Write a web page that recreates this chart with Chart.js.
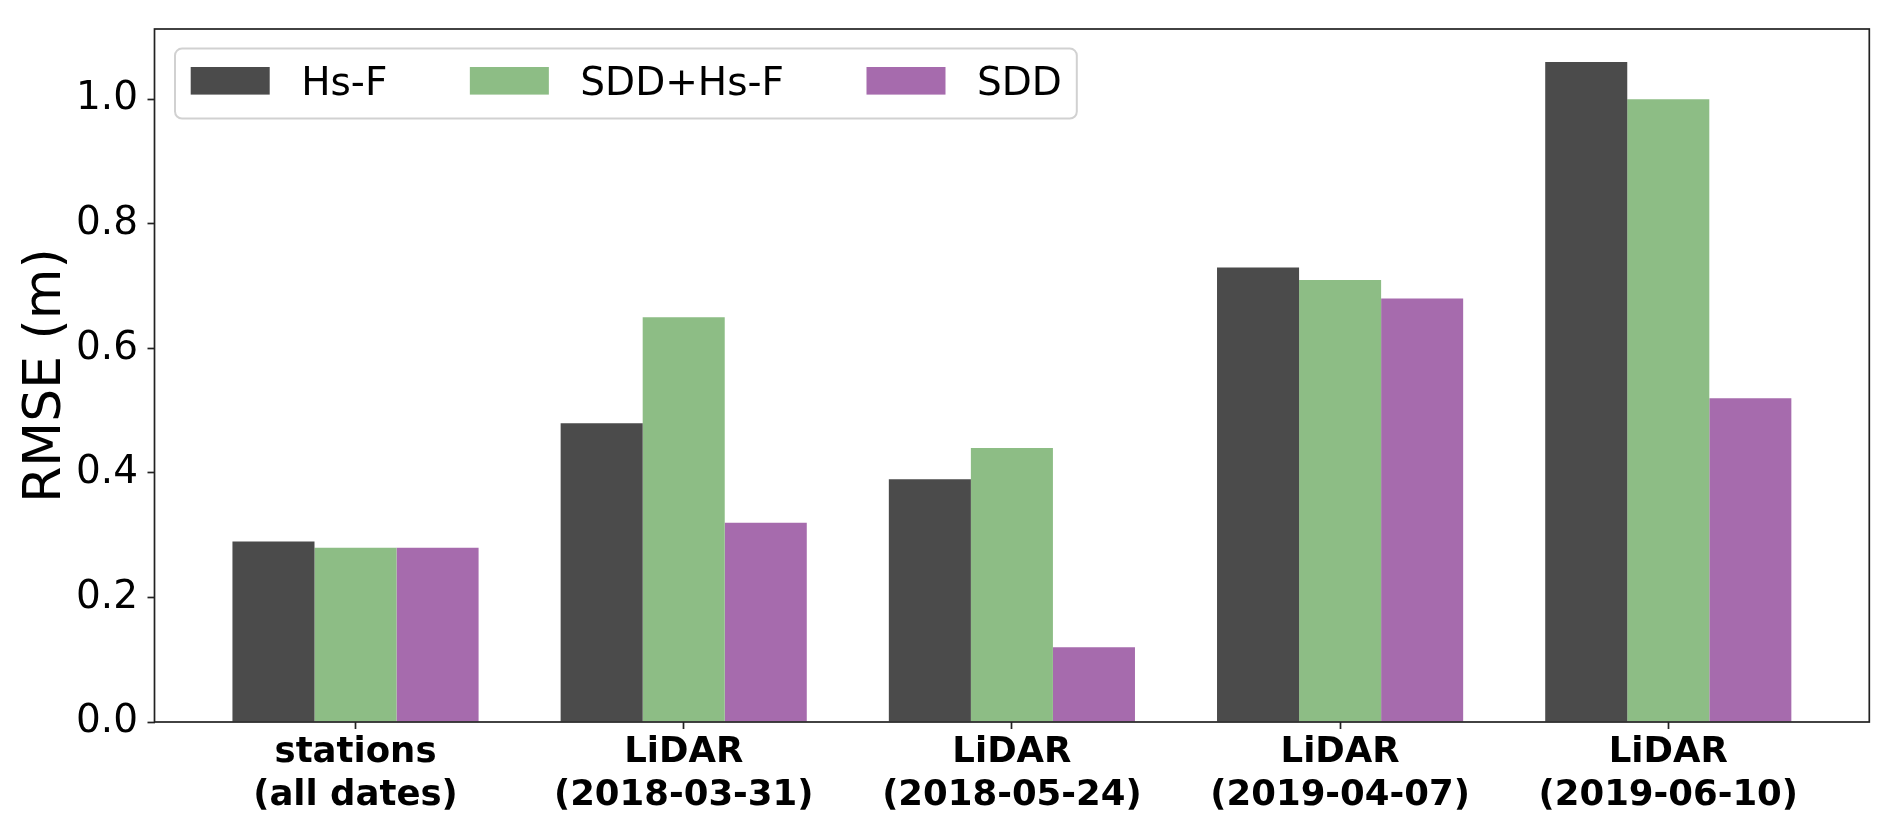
<!DOCTYPE html>
<html><head><meta charset="utf-8">
<script src="https://cdn.jsdelivr.net/npm/chart.js@4.4.1/dist/chart.umd.min.js"></script>
<style>html,body{margin:0;padding:0;background:#fff;overflow:hidden}canvas{display:block}</style>
</head><body>
<canvas id="c" width="1892" height="833"></canvas>
<script>
const categories = [
  ['stations', '(all dates)'],
  ['LiDAR', '(2018-03-31)'],
  ['LiDAR', '(2018-05-24)'],
  ['LiDAR', '(2019-04-07)'],
  ['LiDAR', '(2019-06-10)']
];
const seriesNames = ['Hs-F', 'SDD+Hs-F', 'SDD'];
const hsF    = [0.29, 0.48, 0.39, 0.73, 1.06];
const sddHsF = [0.28, 0.65, 0.44, 0.71, 1.00];
const sdd    = [0.28, 0.32, 0.12, 0.68, 0.52];
const yTicks = [0.0, 0.2, 0.4, 0.6, 0.8, 1.0];
const yTitle = 'RMSE (m)';
const colors = ['#4b4b4b', '#8dbd85', '#a66bad'];

const FONT = '"DejaVu Sans", sans-serif';
const toPoints = arr => arr.map((v, i) => ({ x: i, y: v }));

const bgPlugin = {
  id: 'bg',
  beforeDraw(chart) {
    const ctx = chart.ctx;
    ctx.save();
    ctx.fillStyle = '#fff';
    ctx.fillRect(0, 0, chart.width, chart.height);
    ctx.restore();
  }
};

const frameLegend = {
  id: 'frameLegend',
  afterDatasetsDraw(chart) {
    const ctx = chart.ctx, a = chart.chartArea;
    ctx.save();
    // spines
    ctx.strokeStyle = '#222';
    ctx.lineWidth = 1.7;
    ctx.strokeRect(a.left, a.top, a.right - a.left, a.bottom - a.top);
    // legend
    const fs = 39;
    ctx.font = fs + 'px ' + FONT;
    const sw = 79, sh = 27.6, padL = 15.7, padR = 15, g1 = 31.5, g2 = 82.5;
    const x0 = a.left + 20.5, y0 = a.top + 19.6, h = 70;
    const items = chart.data.datasets.map(d => ({
      label: d.label, color: d.backgroundColor, w: ctx.measureText(d.label).width
    }));
    let total = padL + padR;
    items.forEach((it, i) => { total += sw + g1 + it.w + (i < items.length - 1 ? g2 : 0); });
    ctx.beginPath();
    ctx.roundRect(x0, y0, total, h, 7);
    ctx.fillStyle = 'rgba(255,255,255,0.8)';
    ctx.fill();
    ctx.strokeStyle = 'rgba(204,204,204,0.9)';
    ctx.lineWidth = 2;
    ctx.stroke();
    let x = x0 + padL;
    items.forEach(it => {
      ctx.fillStyle = it.color;
      ctx.fillRect(x, y0 + 18.4, sw, sh);
      x += sw + g1;
      ctx.fillStyle = '#000';
      ctx.textBaseline = 'alphabetic';
      ctx.textAlign = 'left';
      ctx.fillText(it.label, x, y0 + 46);
      x += it.w + g2;
    });
    ctx.restore();
  }
};

const seriesData = [hsF, sddHsF, sdd];

new Chart(document.getElementById('c'), {
  type: 'bar',
  data: {
    datasets: seriesNames.map((name, k) => ({
      label: name,
      data: toPoints(seriesData[k]),
      backgroundColor: colors[k],
      borderWidth: 0,
      categoryPercentage: 0.75,
      barPercentage: 1.0
    }))
  },
  options: {
    responsive: false,
    animation: false,
    events: [],
    layout: { padding: { left: 0, right: 22.7, top: 22.7, bottom: 0 } },
    plugins: { legend: { display: false }, tooltip: { enabled: false } },
    scales: {
      x: {
        type: 'linear',
        min: -0.6125,
        max: 4.6125,
        offset: false,
        border: { display: false },
        grid: { offset: false, drawOnChartArea: false, drawTicks: true, tickLength: 7, tickWidth: 1.7, tickColor: '#222' },
        afterBuildTicks: s => { s.ticks = categories.map((c, i) => ({ value: i })); },
        afterFit: s => { s.height = 833 - 722; },
        ticks: {
          autoSkip: false, maxRotation: 0, minRotation: 0, padding: 2.5,
          color: '#000',
          font: { family: FONT, size: 35.5, weight: 'bold', lineHeight: 1.2 },
          callback: v => categories[Math.round(v)]
        }
      },
      y: {
        type: 'linear',
        min: 0,
        max: 1.113,
        border: { display: false },
        grid: { drawOnChartArea: false, drawTicks: true, tickLength: 7, tickWidth: 1.7, tickColor: '#222' },
        afterBuildTicks: s => { s.ticks = yTicks.map(v => ({ value: v })); },
        afterFit: s => { s.width = 154.5; },
        ticks: {
          padding: 9.5, color: '#000',
          font: { family: FONT, size: 39, lineHeight: 1 },
          callback: v => Number(v).toFixed(1)
        },
        title: {
          display: true, text: yTitle, color: '#000',
          font: { family: FONT, size: 52, lineHeight: 1.2 },
          padding: { top: 15, bottom: 0 }
        }
      }
    }
  },
  plugins: [bgPlugin, frameLegend]
});
</script>
</body></html>
